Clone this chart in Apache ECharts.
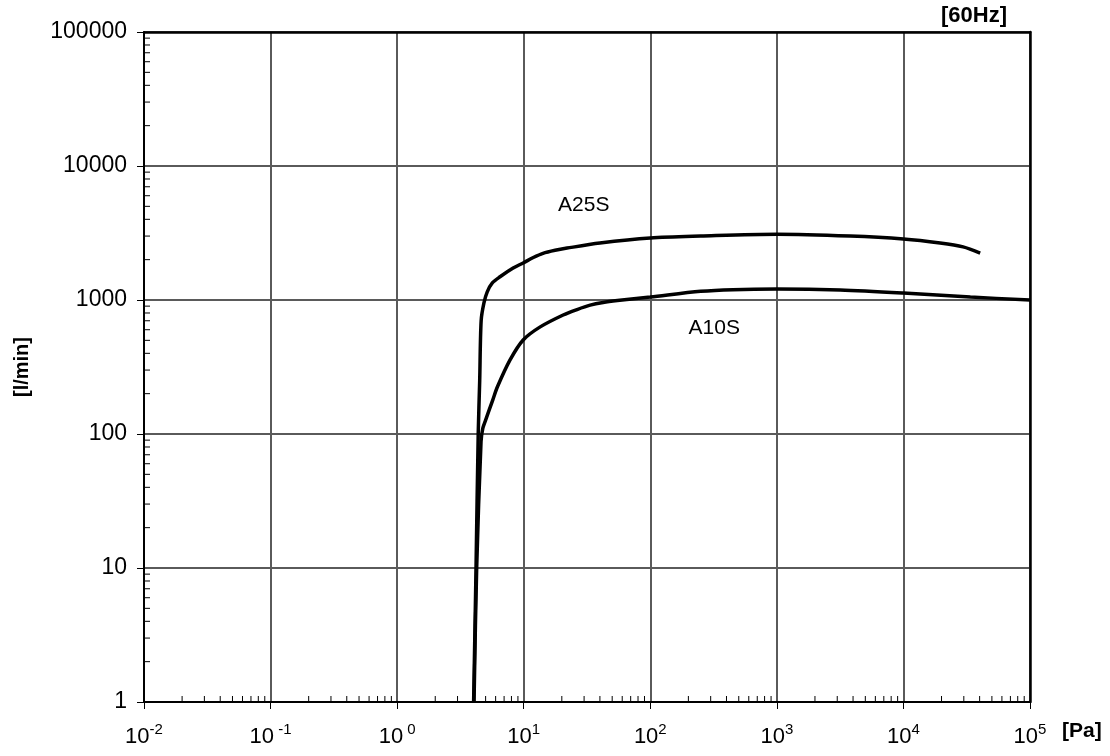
<!DOCTYPE html>
<html><head><meta charset="utf-8">
<script src="https://cdn.jsdelivr.net/npm/echarts@6/dist/echarts.min.js"></script>
<style>html,body{margin:0;padding:0;background:#fff}#c{width:1110px;height:756px}</style>
</head><body><div id="c"></div>
<script>
// tick labels
const xExponents = ['-2', ' -1', ' 0', '1', '2', '3', '4', '5'];
const yTickLabels = ['1', '10', '100', '1000', '10000', '100000'];
const seriesNames = ['A25S', 'A10S'];
// A25S
const a25sPressure = [4.02, 4.2, 4.37, 4.49, 4.61, 4.85, 5.15, 5.65, 6.5, 8.25, 9.9, 11.9, 14.2, 17.7, 22, 40, 100, 250, 1000, 3800, 10000, 19500, 29600, 40400];
const a25sFlow     = [1, 10, 100, 250, 700, 950, 1150, 1340, 1490, 1730, 1890, 2075, 2230, 2350, 2440, 2660, 2900, 3000, 3100, 3000, 2850, 2660, 2490, 2240];
// A10S
const a10sPressure = [4.05, 4.25, 4.6, 4.75, 5.0, 5.7, 6.2, 7.8, 9.9, 13.5, 20.5, 26.4, 33.5, 42.4, 55, 100, 250, 450, 1000, 3160, 10000, 33800, 100000];
const a10sFlow     = [1, 10, 88, 110, 127, 180, 225, 357, 503, 630, 773, 849, 915, 958, 990, 1052, 1160, 1195, 1208, 1188, 1128, 1052, 1000];
// label anchors
const labelPressure = [29.8, 320];
const labelFlow = [5057, 618];

const xMin = 0.01, xMax = 100000, yMin = 1, yMax = 100000;
const minorX = [], minorY = [];
for (let e = -2; e < 5; e++) for (let m = 2; m <= 9; m++) minorX.push([m * Math.pow(10, e), yMin]);
for (let e = 0; e < 5; e++) for (let m = 2; m <= 9; m++) minorY.push([xMin, m * Math.pow(10, e)]);

const font = '"Liberation Sans", Arial, sans-serif';
const chart = echarts.init(document.getElementById('c'));
const gridColor = '#5a5a5a';

chart.setOption({
  animation: false,
  backgroundColor: '#fff',
  grid: { left: 144, right: 80, top: 32, bottom: 54, containLabel: false },
  xAxis: [{
    type: 'log', logBase: 10, min: xMin, max: xMax,
    axisLine: { show: true, lineStyle: { color: '#000', width: 2 } },
    axisTick: { show: true, inside: false, length: 7, lineStyle: { color: '#000', width: 1 } },
    splitLine: { show: true, lineStyle: { color: gridColor, width: 2 } },
    axisLabel: {
      margin: 20, color: '#000', fontFamily: font,
      formatter: function (v) {
        const i = Math.round(Math.log10(v)) + 2;
        return '{b|10}{s|' + xExponents[i] + '}';
      },
      rich: {
        b: { fontSize: 22, fontFamily: font, color: '#000', verticalAlign: 'bottom', lineHeight: 26 },
        s: { fontSize: 15, fontFamily: font, color: '#000', verticalAlign: 'top', lineHeight: 26, padding: [0, 0, 10, 0] }
      }
    }
  }, {
    type: 'log', logBase: 10, min: xMin, max: xMax, position: 'top', z: 5,
    axisLine: { show: true, lineStyle: { color: '#000', width: 2.5 } },
    axisTick: { show: false }, axisLabel: { show: false }, splitLine: { show: false }
  }],
  yAxis: [{
    type: 'log', logBase: 10, min: yMin, max: yMax,
    name: '[l/min]', nameLocation: 'middle', nameGap: 112, nameRotate: 90,
    nameTextStyle: { fontSize: 20, fontWeight: 'bold', fontFamily: font, color: '#000' },
    axisLine: { show: true, lineStyle: { color: '#000', width: 2 } },
    axisTick: { show: true, inside: false, length: 7, lineStyle: { color: '#000', width: 1 } },
    splitLine: { show: true, lineStyle: { color: gridColor, width: 2 } },
    axisLabel: {
      margin: 17, color: '#000', fontSize: 23, fontFamily: font,
      formatter: function (v) { return yTickLabels[Math.round(Math.log10(v))]; }
    }
  }, {
    type: 'log', logBase: 10, min: yMin, max: yMax, position: 'right', z: 5,
    axisLine: { show: true, lineStyle: { color: '#000', width: 2.5 } },
    axisTick: { show: false }, axisLabel: { show: false }, splitLine: { show: false }
  }],
  graphic: [
    { type: 'text', left: 941, top: 5, z: 10, style: { text: '[60Hz]', font: 'bold 22px ' + font, fill: '#000' } },
    { type: 'text', left: 1062, top: 721, z: 10, style: { text: '[Pa]', font: 'bold 21px ' + font, fill: '#000' } }
  ],
  series: [
    {
      name: seriesNames[0], type: 'line', smooth: 0.3, showSymbol: false, symbol: 'none',
      lineStyle: { color: '#000', width: 3.5 }, z: 4,
      data: a25sPressure.map((p, i) => [p, a25sFlow[i]])
    },
    {
      name: seriesNames[1], type: 'line', smooth: 0.3, showSymbol: false, symbol: 'none',
      lineStyle: { color: '#000', width: 3.5 }, z: 4,
      data: a10sPressure.map((p, i) => [p, a10sFlow[i]])
    },
    {
      type: 'scatter', symbolSize: 0, silent: true, z: 6,
      itemStyle: { opacity: 1 },
      label: { show: true, position: 'inside', formatter: p => p.data[2], fontSize: 21, fontFamily: font, color: '#000', opacity: 1 },
      data: seriesNames.map((n, i) => [labelPressure[i], labelFlow[i], n])
    },
    {
      type: 'custom', silent: true, z: 3, clip: false,
      renderItem: function (params, api) {
        const p = api.coord([api.value(0), api.value(1)]);
        return { type: 'line', shape: { x1: p[0], y1: p[1], x2: p[0], y2: p[1] - 6 }, style: { stroke: '#000', lineWidth: 1 } };
      },
      data: minorX
    },
    {
      type: 'custom', silent: true, z: 3, clip: false,
      renderItem: function (params, api) {
        const p = api.coord([api.value(0), api.value(1)]);
        return { type: 'line', shape: { x1: p[0], y1: p[1], x2: p[0] + 6, y2: p[1] }, style: { stroke: '#000', lineWidth: 1 } };
      },
      data: minorY
    }
  ]
});
</script></body></html>
